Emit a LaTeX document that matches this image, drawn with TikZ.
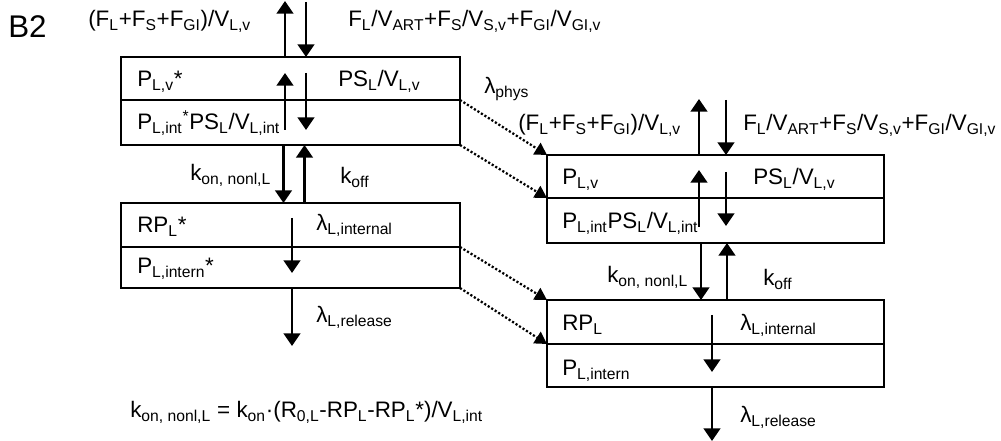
\documentclass[tikz,border=0pt]{standalone}
\usepackage{fontspec}
\setmainfont{Liberation Sans}
\usetikzlibrary{arrows.meta}
\newcommand\sB[1]{\textsubscript{#1}}
\newcommand\sP[1]{\textsuperscript{#1}}
\begin{document}
\begin{tikzpicture}[x=0.75pt,y=-0.75pt,
  box/.style={draw, line width=2pt, inner sep=0pt, outer sep=0pt},
  lboxa/.style={box, minimum width=254.25pt},
  rboxa/.style={box, minimum width=252.75pt},
  flow/.style={line width=1.8pt, -{Triangle[width=12.5pt,length=9.5pt]}},
  dotflow/.style={line width=1.7pt, dash pattern=on 1.6pt off 1.5pt, -{Triangle[width=10pt,length=9pt]}},
  lab/.style={anchor=base west, inner sep=0pt, font=\fontsize{16.8pt}{19pt}\selectfont}
]
\useasboundingbox (0,0) rectangle (1001,441);
% left boxes
\node[lboxa, minimum height=32.25pt] (L1) at (290.5,78.5) {};
\node[lboxa, minimum height=33.75pt] (L2) at (290.5,122.5) {};
\node[lboxa, minimum height=33pt] (L3) at (290.5,225) {};
\node[lboxa, minimum height=30.75pt] (L4) at (290.5,267.5) {};
% right boxes
\node[rboxa, minimum height=32.25pt] (R1) at (715.5,176.5) {};
\node[rboxa, minimum height=33.75pt] (R2) at (715.5,220.5) {};
\node[rboxa, minimum height=33pt] (R3) at (715.5,322) {};
\node[rboxa, minimum height=32.25pt] (R4) at (715.5,365.5) {};
% free ends
\coordinate (LtopUp) at (285,1);
\coordinate (LtopDn) at (306,2);
\coordinate (LinUpS) at (285,130);
\coordinate (LinUpE) at (285,73);
\coordinate (LinDnS) at (306,73);
\coordinate (LinDnE) at (306,130);
\coordinate (LinternS) at (292,218);
\coordinate (LinternE) at (292,273);
\coordinate (LrelE) at (292,346);
\coordinate (RtopUp) at (699,99);
\coordinate (RtopDn) at (726,100);
\coordinate (RinUpS) at (699,227);
\coordinate (RinUpE) at (699,170);
\coordinate (RinDnS) at (726,172);
\coordinate (RinDnE) at (726,226);
\coordinate (RinternS) at (712,315);
\coordinate (RinternE) at (712,372);
\coordinate (RrelE) at (712,441);
% left arrows
\draw[flow] (L1.north -| LtopUp) -- (LtopUp);
\draw[flow] (LtopDn) -- (L1.north -| LtopDn);
\draw[flow] (LinUpS) -- (LinUpE);
\draw[flow] (LinDnS) -- (LinDnE);
\draw[flow] (L2.south -| 283.5,0) -- (L3.north -| 283.5,0);
\draw[flow] (L3.north -| 304.5,0) -- (L2.south -| 304.5,0);
\draw[flow] (LinternS) -- (LinternE);
\draw[flow] (L4.south -| LrelE) -- (LrelE);
% right arrows
\draw[flow] (R1.north -| RtopUp) -- (RtopUp);
\draw[flow] (RtopDn) -- (R1.north -| RtopDn);
\draw[flow] (RinUpS) -- (RinUpE);
\draw[flow] (RinDnS) -- (RinDnE);
\draw[flow] (R2.south -| 701,0) -- (R3.north -| 701,0);
\draw[flow] (R3.north -| 727,0) -- (R2.south -| 727,0);
\draw[flow] (RinternS) -- (RinternE);
\draw[flow] (R4.south -| RrelE) -- (RrelE);
% dotted transfers
\draw[dotflow] (L1.south east) -- (R1.north west);
\draw[dotflow] (L2.south east) -- (R2.north west);
\draw[dotflow] (L3.south east) -- (R3.north west);
\draw[dotflow] (L4.south east) -- (R4.north west);
% labels
\node[anchor=base west, inner sep=0pt, font=\fontsize{23.5pt}{26pt}\selectfont] (B2) at (8,38) {B2};
\node[lab] (t1) at (88,27) {(F\sB{L}+F\sB{S}+F\sB{GI})/V\sB{L,v}};
\node[lab] (t2) at (348,27) {F\sB{L}/V\sB{ART}+F\sB{S}/V\sB{S,v}+F\sB{GI}/V\sB{GI,v}};
\node[lab] (t3) at (137,87) {P\sB{L,v}*};
\node[lab] (t4) at (338,87) {PS\sB{L}/V\sB{L,v}};
\node[lab] (t5) at (137,130) {P\sB{L,int}\sP{*}PS\sB{L}/V\sB{L,int}};
\node[lab] (t6) at (484,94) {λ\sB{phys}};
\node[lab] (t7) at (190,181) {k\sB{on, nonl,L}};
\node[lab] (t8) at (340,184) {k\sB{off}};
\node[lab] (t9) at (137,233) {RP\sB{L}*};
\node[lab] (t10) at (316,231) {λ\sB{L,internal}};
\node[lab] (t11) at (137,274) {P\sB{L,intern}*};
\node[lab] (t12) at (316,323) {λ\sB{L,release}};
\node[lab] (t13) at (130,418) {k\sB{on, nonl,L} = k\sB{on}·(R\sB{0,L}-RP\sB{L}-RP\sB{L}*)/V\sB{L,int}};
\node[lab] (t14) at (518,131) {(F\sB{L}+F\sB{S}+F\sB{GI})/V\sB{L,v}};
\node[lab] (t15) at (743,131) {F\sB{L}/V\sB{ART}+F\sB{S}/V\sB{S,v}+F\sB{GI}/V\sB{GI,v}};
\node[lab] (t16) at (562,185) {P\sB{L,v}};
\node[lab] (t17) at (753,185) {PS\sB{L}/V\sB{L,v}};
\node[lab] (t18) at (562,229) {P\sB{L,int}PS\sB{L}/V\sB{L,int}};
\node[lab] (t19) at (607,283) {k\sB{on, nonl,L}};
\node[lab] (t20) at (763,286) {k\sB{off}};
\node[lab] (t21) at (562,331) {RP\sB{L}};
\node[lab] (t22) at (740,331) {λ\sB{L,internal}};
\node[lab] (t23) at (562,376) {P\sB{L,intern}};
\node[lab] (t24) at (740,423) {λ\sB{L,release}};
\end{tikzpicture}
\end{document}
